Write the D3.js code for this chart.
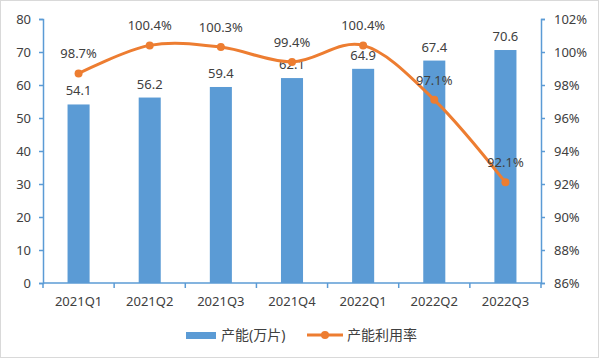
<!DOCTYPE html>
<html>
<head>
<meta charset="utf-8">
<script src="https://cdn.jsdelivr.net/npm/d3@7"></script>
<style>
  body { margin: 0; background: #fff; }
  text { font-family: "Noto Sans", "Noto Sans CJK SC", sans-serif; fill: #404040; }
</style>
</head>
<body>
<svg id="chart"></svg>
<script>
const quarters = ["2021Q1", "2021Q2", "2021Q3", "2021Q4", "2022Q1", "2022Q2", "2022Q3"];
const capacity = [54.1, 56.2, 59.4, 62.1, 64.9, 67.4, 70.6];
const utilization = [98.7, 100.4, 100.3, 99.4, 100.4, 97.1, 92.1];
const leftTicks = [0, 10, 20, 30, 40, 50, 60, 70, 80];
const rightTicks = [86, 88, 90, 92, 94, 96, 98, 100, 102];
const seriesNames = ["产能(万片)", "产能利用率"];

const width = 600, height = 360;
const barColor = "#5b9bd5", lineColor = "#ed7d31", axisColor = "#5b9bd5";
const plot = { left: 43, right: 541, top: 19, bottom: 283 };

const svg = d3.select("#chart").attr("width", width).attr("height", height);

svg.append("rect")
    .attr("x", 0.5).attr("y", 0.5)
    .attr("width", width - 2).attr("height", height - 3)
    .attr("fill", "#fff").attr("stroke", "#d9d9d9");

const x = d3.scaleBand().domain(quarters).range([plot.left, plot.right]).paddingInner(0.69).paddingOuter(0.345);
const yL = d3.scaleLinear().domain([0, 80]).range([plot.bottom, plot.top]);
const yR = d3.scaleLinear().domain([86, 102]).range([plot.bottom, plot.top]);

// bars
svg.selectAll("rect.bar")
    .data(capacity)
    .enter()
    .append("rect")
    .attr("class", "bar")
    .attr("x", (d, i) => x(quarters[i]))
    .attr("y", d => yL(d))
    .attr("width", x.bandwidth())
    .attr("height", d => yL(0) - yL(d))
    .attr("fill", barColor);

svg.selectAll("text.barlabel")
    .data(capacity)
    .enter()
    .append("text")
    .attr("class", "barlabel")
    .attr("x", (d, i) => x(quarters[i]) + x.bandwidth() / 2)
    .attr("y", d => yL(d) - 9)
    .attr("text-anchor", "middle")
    .style("font-size", "13px")
    .text(d => d.toFixed(1));

// axes
function styleAxis(g) {
    g.selectAll("path, line").attr("stroke", axisColor).attr("stroke-width", 1.5);
    g.selectAll("text").style("font-size", "13px").attr("fill", "#404040");
}

svg.append("g")
    .attr("transform", `translate(${plot.left},0)`)
    .call(d3.axisLeft(yL).tickValues(leftTicks).tickSize(4).tickSizeOuter(4).tickPadding(8))
    .call(styleAxis);

svg.append("g")
    .attr("transform", `translate(${plot.right},0)`)
    .call(d3.axisRight(yR).tickValues(rightTicks).tickFormat(d => d + "%").tickSize(4).tickSizeOuter(4).tickPadding(9))
    .call(styleAxis);

const xAxis = svg.append("g")
    .attr("transform", `translate(0,${plot.bottom})`)
    .call(d3.axisBottom(x).tickSize(0).tickPadding(14))
    .call(styleAxis);
xAxis.select("path").attr("d", `M${plot.left},0H${plot.right}`);
const step = x.step();
xAxis.selectAll("line.sep")
    .data(d3.range(quarters.length + 1))
    .enter()
    .append("line")
    .attr("class", "sep")
    .attr("x1", i => plot.left + i * step)
    .attr("x2", i => plot.left + i * step)
    .attr("y1", 0).attr("y2", 5)
    .attr("stroke", axisColor).attr("stroke-width", 1.5);

// line
const cx = i => x(quarters[i]) + x.bandwidth() / 2;
const line = d3.line()
    .x((d, i) => cx(i))
    .y(d => yR(d))
    .curve(d3.curveCardinal.tension(0));

svg.append("path")
    .datum(utilization)
    .attr("d", line)
    .attr("fill", "none")
    .attr("stroke", lineColor)
    .attr("stroke-width", 3);

svg.selectAll("circle.pt")
    .data(utilization)
    .enter()
    .append("circle")
    .attr("class", "pt")
    .attr("cx", (d, i) => cx(i))
    .attr("cy", d => yR(d))
    .attr("r", 4)
    .attr("fill", lineColor);

svg.selectAll("text.ptlabel")
    .data(utilization)
    .enter()
    .append("text")
    .attr("class", "ptlabel")
    .attr("x", (d, i) => cx(i))
    .attr("y", d => yR(d) - 15)
    .attr("text-anchor", "middle")
    .style("font-size", "13px")
    .text(d => d.toFixed(1) + "%");

// legend
const legend = svg.append("g").attr("transform", "translate(0,335)");
legend.append("rect")
    .attr("x", 186).attr("y", -3).attr("width", 30).attr("height", 7)
    .attr("fill", barColor);
legend.append("text")
    .attr("x", 221).attr("y", 0).attr("dy", "0.35em")
    .style("font-size", "14px")
    .text(seriesNames[0]);
legend.append("line")
    .attr("x1", 307).attr("x2", 343).attr("y1", 0).attr("y2", 0)
    .attr("stroke", lineColor).attr("stroke-width", 3);
legend.append("circle")
    .attr("cx", 325).attr("cy", 0).attr("r", 4)
    .attr("fill", lineColor);
legend.append("text")
    .attr("x", 347).attr("y", 0).attr("dy", "0.35em")
    .style("font-size", "14px")
    .text(seriesNames[1]);
</script>
</body>
</html>
